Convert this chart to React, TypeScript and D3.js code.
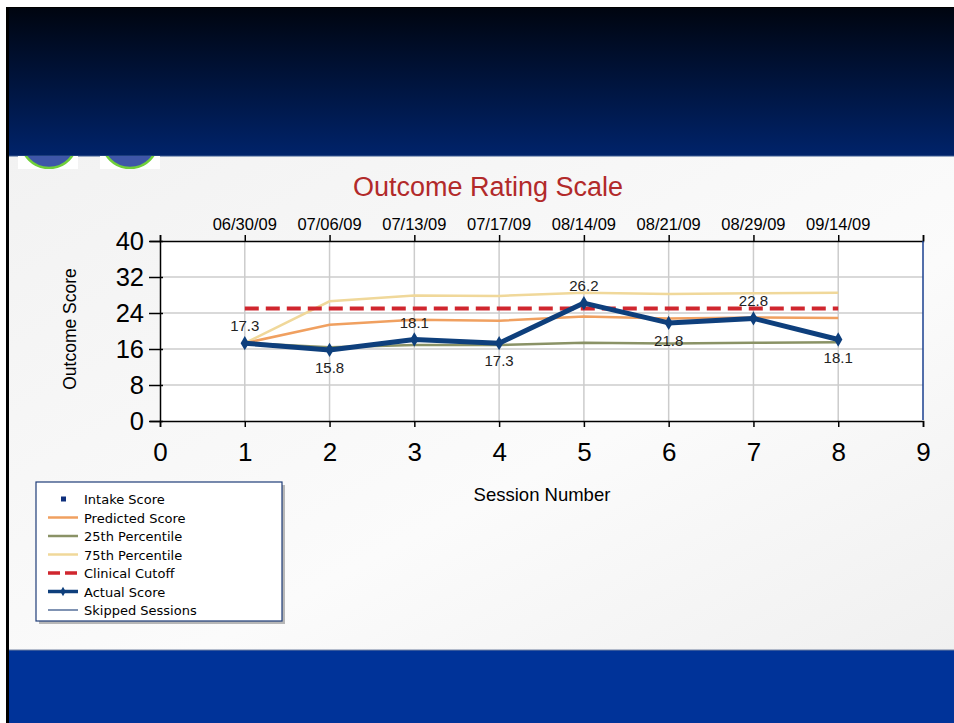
import { useEffect, useRef } from 'react';
import * as d3 from 'd3';

const sessions = [1, 2, 3, 4, 5, 6, 7, 8];
const dates = ['06/30/09', '07/06/09', '07/13/09', '07/17/09', '08/14/09', '08/21/09', '08/29/09', '09/14/09'];
const actual = [17.3, 15.8, 18.1, 17.3, 26.2, 21.8, 22.8, 18.1];
const predicted = [17.3, 21.4, 22.5, 22.3, 23.2, 22.8, 23.0, 22.9];
const pct25 = [17.3, 16.4, 16.9, 16.9, 17.4, 17.2, 17.4, 17.5];
const pct75 = [17.3, 26.6, 27.9, 27.8, 28.5, 28.2, 28.4, 28.5];
const cutoff = 25;
const yTicks = [0, 8, 16, 24, 32, 40];
const xTicks = [0, 1, 2, 3, 4, 5, 6, 7, 8, 9];
const legendItems = ['Intake Score', 'Predicted Score', '25th Percentile', '75th Percentile', 'Clinical Cutoff', 'Actual Score', 'Skipped Sessions'];

const App = () => {
  const svgRef = useRef<SVGSVGElement>(null);

  useEffect(() => {
    if (!svgRef.current) return;
    const root = d3.select(svgRef.current);
    root.selectAll('*').remove();

    const W = 954;
    const H = 723;
    const font = '"Liberation Sans", Arial, sans-serif';

    // Slide background
    const defs = root.append('defs');
    const topGrad = defs.append('linearGradient').attr('id', 'topGrad').attr('x1', 0).attr('y1', 0).attr('x2', 0).attr('y2', 1);
    topGrad.append('stop').attr('offset', '0%').attr('stop-color', '#000510');
    topGrad.append('stop').attr('offset', '100%').attr('stop-color', '#00236a');
    const midGrad = defs.append('linearGradient').attr('id', 'midGrad').attr('x1', 0).attr('y1', 0).attr('x2', 1).attr('y2', 1);
    midGrad.append('stop').attr('offset', '0%').attr('stop-color', '#f2f2f2');
    midGrad.append('stop').attr('offset', '60%').attr('stop-color', '#fbfbfb');
    midGrad.append('stop').attr('offset', '100%').attr('stop-color', '#f0f0f0');

    root.append('rect').attr('width', W).attr('height', H).attr('fill', '#ffffff');
    root.append('rect').attr('x', 6).attr('y', 7).attr('width', W - 6).attr('height', H - 7).attr('fill', '#000000');
    root.append('rect').attr('x', 9).attr('y', 8).attr('width', W - 9).attr('height', 148).attr('fill', 'url(#topGrad)');
    root.append('rect').attr('x', 9).attr('y', 156).attr('width', W - 9).attr('height', 494).attr('fill', 'url(#midGrad)');
    root.append('line').attr('x1', 9).attr('x2', W).attr('y1', 156).attr('y2', 156).attr('stroke', '#3a5a90').attr('stroke-width', 1);
    root.append('rect').attr('x', 9).attr('y', 650).attr('width', W - 9).attr('height', 73).attr('fill', '#003399');
    root.append('line').attr('x1', 9).attr('x2', W).attr('y1', 650).attr('y2', 650).attr('stroke', '#7080a0').attr('stroke-width', 1);

    // logo fragments
    [[18, 49], [100, 130]].forEach(([x0, cx], i) => {
      const clipId = `logoClip${i}`;
      defs.append('clipPath').attr('id', clipId).append('rect').attr('x', x0).attr('y', 156).attr('width', 60).attr('height', 13);
      const g = root.append('g').attr('clip-path', `url(#${clipId})`);
      g.append('rect').attr('x', x0).attr('y', 156).attr('width', 60).attr('height', 13).attr('fill', '#ffffff');
      g.append('circle').attr('cx', cx).attr('cy', 140).attr('r', 28).attr('fill', '#3e56a8').attr('stroke', '#6fcf3a').attr('stroke-width', 2.5);
    });

    // Chart scales
    const x = d3.scaleLinear().domain([0, 9]).range([160, 923]);
    const y = d3.scaleLinear().domain([0, 40]).range([421, 241]);

    root.append('rect').attr('x', x(0)).attr('y', y(40)).attr('width', x(9) - x(0)).attr('height', y(0) - y(40)).attr('fill', '#ffffff');

    // grid
    root.append('g').selectAll('line').data(yTicks.slice(1, -1)).join('line')
      .attr('x1', x(0)).attr('x2', x(9)).attr('y1', d => y(d)).attr('y2', d => y(d))
      .attr('stroke', '#cccccc').attr('stroke-width', 1.5);
    root.append('g').selectAll('line').data(sessions).join('line')
      .attr('x1', d => x(d)).attr('x2', d => x(d)).attr('y1', y(40)).attr('y2', y(0))
      .attr('stroke', '#cccccc').attr('stroke-width', 1.5);

    // axes
    const yAxis = root.append('g').attr('transform', `translate(${x(0)},0)`)
      .call(d3.axisLeft(y).tickValues(yTicks).tickSize(10).tickPadding(6));
    yAxis.select('.domain').attr('stroke', '#000').attr('stroke-width', 1.5);
    yAxis.selectAll('.tick line').attr('stroke', '#000').attr('stroke-width', 1.5).attr('x2', -11).attr('x1', 3);
    yAxis.selectAll('text').attr('font-family', font).attr('font-size', 25.5).attr('fill', '#000');

    const xAxis = root.append('g').attr('transform', `translate(0,${y(0)})`)
      .call(d3.axisBottom(x).tickValues(xTicks).tickSize(6).tickPadding(16).tickFormat(d3.format('d')));
    xAxis.select('.domain').attr('stroke', '#000').attr('stroke-width', 1.5);
    xAxis.selectAll('.tick line').attr('stroke', '#000').attr('stroke-width', 1.5);
    xAxis.selectAll('text').attr('font-family', font).attr('font-size', 26).attr('fill', '#000');

    const topAxis = root.append('g').attr('transform', `translate(0,${y(40)})`)
      .call(d3.axisTop(x).tickValues(xTicks).tickSize(6).tickFormat(() => ''));
    topAxis.select('.domain').attr('stroke', '#000').attr('stroke-width', 1.5);
    topAxis.selectAll('.tick line').attr('stroke', '#000').attr('stroke-width', 1.5);

    root.append('line').attr('x1', x(9)).attr('x2', x(9)).attr('y1', y(40)).attr('y2', y(0) - 1)
      .attr('stroke', '#1a3f8f').attr('stroke-width', 1.5);

    // date labels
    root.append('g').selectAll('text').data(dates).join('text')
      .attr('x', (_, i) => x(sessions[i])).attr('y', 230)
      .attr('text-anchor', 'middle').attr('font-family', font).attr('font-size', 16.5).attr('fill', '#000')
      .text(d => d);

    const line = d3.line<number>().x((_, i) => x(sessions[i])).y(d => y(d));

    root.append('path').datum(pct75).attr('fill', 'none').attr('stroke', '#f0d89a').attr('stroke-width', 2.5).attr('d', line);
    root.append('path').datum(predicted).attr('fill', 'none').attr('stroke', '#f0a060').attr('stroke-width', 2.5).attr('d', line);
    root.append('path').datum(pct25).attr('fill', 'none').attr('stroke', '#8a9266').attr('stroke-width', 2.5).attr('d', line);
    root.append('line').attr('x1', x(1)).attr('x2', x(8)).attr('y1', y(cutoff)).attr('y2', y(cutoff))
      .attr('stroke', '#d0262e').attr('stroke-width', 4).attr('stroke-dasharray', '14,7');
    root.append('path').datum(actual).attr('fill', 'none').attr('stroke', '#0e3f7c').attr('stroke-width', 5)
      .attr('stroke-linejoin', 'round').attr('d', line);
    root.append('g').selectAll('path').data(actual).join('path')
      .attr('transform', (d, i) => `translate(${x(sessions[i])},${y(d)})`)
      .attr('d', d3.symbol(d3.symbolDiamond, 60)()!)
      .attr('fill', '#0e3f7c');

    // value labels
    root.append('g').selectAll('text').data(actual).join('text')
      .attr('x', (_, i) => x(sessions[i]))
      .attr('y', (d, i) => (i % 2 === 0 ? y(d) - 12 : y(d) + 23))
      .attr('text-anchor', 'middle').attr('font-family', font).attr('font-size', 15).attr('fill', '#222')
      .text(d => d.toFixed(1));

    // titles
    root.append('text').attr('x', 488).attr('y', 196).attr('text-anchor', 'middle')
      .attr('font-family', font).attr('font-size', 27).attr('fill', '#b22a2a').text('Outcome Rating Scale');
    root.append('text').attr('transform', 'translate(76,329) rotate(-90)').attr('text-anchor', 'middle')
      .attr('font-family', font).attr('font-size', 17.5).attr('fill', '#000').text('Outcome Score');
    root.append('text').attr('x', 542).attr('y', 501).attr('text-anchor', 'middle')
      .attr('font-family', font).attr('font-size', 18.5).attr('fill', '#000').text('Session Number');

    // legend
    const lg = root.append('g');
    lg.append('rect').attr('x', 39).attr('y', 485).attr('width', 246).attr('height', 139).attr('fill', '#8a8a8a').attr('opacity', 0.6);
    lg.append('rect').attr('x', 36).attr('y', 482).attr('width', 246).attr('height', 139).attr('fill', '#ffffff')
      .attr('stroke', '#1e3c78').attr('stroke-width', 1.2);
    const ly = d3.scalePoint<string>().domain(legendItems).range([499, 610]);
    const items = lg.selectAll('g').data(legendItems).join('g').attr('transform', d => `translate(0,${ly(d)})`);
    items.append('text').attr('x', 84).attr('y', 5).attr('font-family', '"DejaVu Sans", sans-serif')
      .attr('font-size', 13).attr('fill', '#000').text(d => d);
    const sym = (name: string) => items.filter(d => d === name);
    sym('Intake Score').append('rect').attr('x', 61).attr('y', -2.5).attr('width', 5).attr('height', 5).attr('fill', '#0e2f7c');
    sym('Predicted Score').append('line').attr('x1', 48).attr('x2', 78).attr('stroke', '#f0a060').attr('stroke-width', 2.5);
    sym('25th Percentile').append('line').attr('x1', 48).attr('x2', 78).attr('stroke', '#8a9266').attr('stroke-width', 2.5);
    sym('75th Percentile').append('line').attr('x1', 48).attr('x2', 78).attr('stroke', '#f0d89a').attr('stroke-width', 2.5);
    sym('Clinical Cutoff').append('line').attr('x1', 48).attr('x2', 78).attr('stroke', '#d0262e').attr('stroke-width', 3.5).attr('stroke-dasharray', '12,5');
    sym('Actual Score').append('line').attr('x1', 48).attr('x2', 78).attr('stroke', '#0e3f7c').attr('stroke-width', 3.5);
    sym('Actual Score').append('path').attr('transform', 'translate(63,0)').attr('d', d3.symbol(d3.symbolDiamond, 25)()!).attr('fill', '#0e3f7c');
    sym('Skipped Sessions').append('line').attr('x1', 48).attr('x2', 78).attr('stroke', '#2a4a80').attr('stroke-width', 1.2);
  }, []);

  return (
    <div style={{ position: 'fixed', left: 0, top: 0, width: 954, height: 723 }}>
      <svg ref={svgRef} width={954} height={723} style={{ display: 'block' }} />
    </div>
  );
};

export default App;
